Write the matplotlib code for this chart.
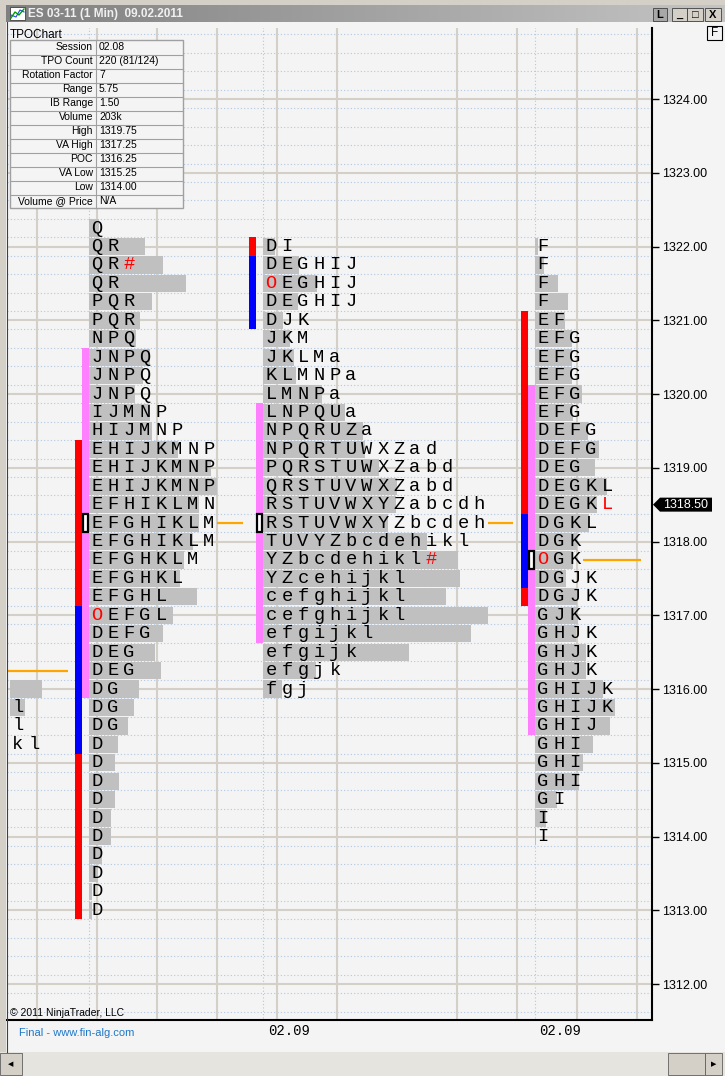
import matplotlib
matplotlib.use("Agg")
import matplotlib.pyplot as plt
import numpy as np
from matplotlib.patches import Rectangle, Polygon
from matplotlib.colors import LinearSegmentedColormap
from matplotlib import transforms

W, H = 725, 1076
DPI = 100
BG = "#F4F4F4"
CHROME = "#D4D0C8"

TICK = 0.25          # price increment of one TPO row
COL_PX = 16.0        # one TPO column is 16 px wide
ROW_H = 0.234        # bar height (row minus 1 px gap)

# info table of session 02.08
TABLE_LABELS = ["Session", "TPO Count", "Rotation Factor", "Range", "IB Range", "Volume",
                "High", "VA High", "POC", "VA Low", "Low", "Volume @ Price"]
TABLE_VALUES = ["02.08", "220 (81/124)", "7", "5.75", "1.50", "203k",
                "1319.75", "1317.25", "1316.25", "1315.25", "1314.00", "N/A"]

# profiles: top price, letter rows top->bottom ('!' = next letter is red), volume bars (px)
P0_TOP = 1316.00
P0_ROWS = ["", "l", "l", "kl"]
P0_VOL = [32, 15, 0, 0]

P1_TOP = 1322.25
P1_ROWS = ["Q", "QR", "QR!#", "QR", "PQR", "PQR", "NPQ", "JNPQ", "JNPQ", "JNPQ",
           "IJMNP", "HIJMNP", "EHIJKMNP", "EHIJKMNP", "EHIJKMNP", "EFHIKLMN",
           "EFGHIKLM", "EFGHIKLM", "EFGHKLM", "EFGHKL", "EFGHL", "!OEFGL", "DEFG",
           "DEG", "DEG", "DG", "DG", "DG", "D", "D", "D", "D", "D", "D", "D", "D", "D", "D"]
P1_VOL = [10, 56, 74, 97, 63, 51, 47, 61, 54, 46, 61, 63, 89, 122, 128, 110, 110, 104, 95,
          91, 108, 84, 74, 66, 72, 50, 45, 39, 29, 26, 30, 26, 22, 22, 13, 9, 3, 3]

P2_TOP = 1322.00
P2_ROWS = ["DI", "DEGHIJ", "!OEGHIJ", "DEGHIJ", "DJK", "JKM", "JKLMa", "KLMNPa", "LMNPa",
           "LNPQUa", "NPQRUZa", "NPQRTUWXZad", "PQRSTUWXZabd", "QRSTUVWXZabd",
           "RSTUVWXYZabcdh", "RSTUVWXYZbcdeh", "TUVYZbcdehikl", "YZbcdehikl!#",
           "YZcehijkl", "cefghijkl", "cefghijkl", "efgijkl", "efgijk", "efgjk", "fgj"]
P2_VOL = [12, 36, 54, 35, 20, 27, 31, 33, 59, 82, 100, 102, 116, 134, 133, 125, 164, 195,
          197, 183, 225, 208, 146, 53, 19]

P3_TOP = 1322.00
P3_ROWS = ["F", "F", "F", "F", "EF", "EFG", "EFG", "EFG", "EFG", "EFG", "DEFG", "DEFG",
           "DEG", "DEGKL", "DEGK!L", "DGKL", "DGK", "!OGK", "DGJK", "DGJK", "GJK", "GHJK",
           "GHJK", "GHJK", "GHIJK", "GHIJK", "GHIJ", "GHI", "GHI", "GHI", "GI", "I", "I"]
P3_VOL = [3, 9, 23, 33, 30, 37, 37, 37, 47, 38, 53, 64, 60, 72, 62, 54, 42, 38, 31, 42,
          43, 41, 51, 51, 68, 80, 75, 58, 48, 44, 22, 11, 1]

PROFILE_START = [0.1875, 5.125, 16.0, 33.0]   # in TPO columns

# side lanes: (profile, lane, color, top price, bottom price)
LANES = [(1, "range", "#FF0000", 1319.25, 1317.25), (1, "range", "#0000FF", 1317.00, 1315.25),
         (1, "range", "#FF0000", 1315.00, 1313.00), (1, "va", "#FF80FF", 1320.50, 1316.00),
         (2, "range", "#FF0000", 1322.00, 1322.00), (2, "range", "#0000FF", 1321.75, 1321.00),
         (2, "va", "#FF80FF", 1319.75, 1316.75),
         (3, "range", "#FF0000", 1321.00, 1318.50), (3, "range", "#0000FF", 1318.25, 1317.50),
         (3, "range", "#FF0000", 1317.25, 1317.25), (3, "va", "#FF80FF", 1320.00, 1315.50)]

POC_PRICE = [None, 1318.25, 1318.25, 1317.75]
# naked POC lines: price, from column, to column
POC_LINES = [(1316.25, 0.0, 3.8), (1318.25, 13.125, 14.75),
             (1318.25, 30.06, 31.6), (1317.75, 36.0, 39.6)]

LAST_PRICE = 1318.50
Y_TICKS = np.arange(1312, 1325)
X_TICKS = [17.6, 34.56]
X_LABELS = ["02.09", "02.09"]
VGRID = [1.875, 5.625, 9.375, 13.125, 16.875, 20.625, 28.125, 31.875, 35.625, 39.375]


def fx(x):
    return x / W


def fy(y):
    return 1 - y / H


def px_rect(fig, x0, y0, x1, y1, **kw):
    fig.add_artist(Rectangle((fx(x0), fy(y1)), (x1 - x0) / W, (y1 - y0) / H,
                             transform=fig.transFigure, **kw))


fig = plt.figure(figsize=(W / DPI, H / DPI), dpi=DPI, facecolor=BG)

# ---- main chart area ----
ax = fig.add_axes([fx(7), fy(1020), (652 - 7) / W, (1020 - 28) / H])
ax.set_facecolor(BG)
ax.set_xlim(0, (652 - 7) / COL_PX)
ax.set_ylim(1311.512, 1324.963)

for s in ["top", "left"]:
    ax.spines[s].set_visible(False)
for s in ["right", "bottom"]:
    ax.spines[s].set_color("black")
    ax.spines[s].set_linewidth(1.5)

ax.yaxis.tick_right()
ax.set_yticks(Y_TICKS)
ax.set_yticklabels([f"{v:.2f}" for v in Y_TICKS], family="Liberation Sans", fontsize=9)
ax.tick_params(axis="y", length=5, width=1, pad=2, colors="black")
ax.set_xticks(X_TICKS)
ax.set_xticklabels(X_LABELS, family="Liberation Mono", fontsize=10)
ax.tick_params(axis="x", length=0, pad=3)

# grid
quarter = np.arange(1311.625, 1325, TICK)
ax.hlines(quarter, 0, 41, colors="#AFC8E4", linestyles=(0, (1, 2)), linewidth=0.8, zorder=0.4)
ax.hlines(Y_TICKS, 0, 41, colors="#D4D0C8", linewidth=1.5, zorder=0.5)
ax.vlines(VGRID, 1311, 1325, colors="#D4D0C8", linewidth=1.5, zorder=0.5)
ax.vlines(PROFILE_START[1:], 1311, 1325, colors="#AFC8E4", linestyles=(0, (1, 2)),
          linewidth=0.8, zorder=0.45)

profiles = [(P0_TOP, P0_ROWS, P0_VOL), (P1_TOP, P1_ROWS, P1_VOL),
            (P2_TOP, P2_ROWS, P2_VOL), (P3_TOP, P3_ROWS, P3_VOL)]

for start, (top, rows, vol) in zip(PROFILE_START, profiles):
    prices = top - TICK * np.arange(len(rows))
    ax.barh(prices, np.array(vol) / COL_PX, left=start, height=ROW_H,
            color="#C0C0C0", zorder=1)
    for price, row in zip(prices, rows):
        i = 0
        red = False
        for ch in row:
            if ch == "!":
                red = True
                continue
            ax.text(start + i + 0.5, price, ch, ha="center", va="center",
                    family="Liberation Mono", fontsize=13.5,
                    color="#FF0000" if red else "black", zorder=3)
            red = False
            i += 1

# side lanes (range / initial balance, value area)
for p, lane, color, top, bottom in LANES:
    start = PROFILE_START[p]
    x0 = start - 14 / COL_PX if lane == "range" else start - 7 / COL_PX
    ax.add_patch(Rectangle((x0, bottom - TICK / 2), 7 / COL_PX, top - bottom + TICK,
                           facecolor=color, edgecolor="none", zorder=2))

# POC markers
for start, poc in zip(PROFILE_START, POC_PRICE):
    if poc is None:
        continue
    ax.add_patch(Rectangle((start - 6 / COL_PX, poc - 0.118), 5 / COL_PX, 0.236,
                           facecolor="white", edgecolor="black", linewidth=1.6, zorder=4))

for price, x0, x1 in POC_LINES:
    ax.plot([x0, x1], [price, price], color="#FFA500", linewidth=1.6, zorder=2,
            solid_capstyle="butt")

# last price tag
tr = transforms.blended_transform_factory(fig.transFigure, ax.transData)
dy = 7 / 73.75
tag = Polygon([(fx(653), LAST_PRICE), (fx(660), LAST_PRICE + dy), (fx(712), LAST_PRICE + dy),
               (fx(712), LAST_PRICE - dy), (fx(660), LAST_PRICE - dy)],
              closed=True, facecolor="black", edgecolor="none", transform=tr, clip_on=False)
ax.add_artist(tag)
ax.text(fx(686), LAST_PRICE, f"{LAST_PRICE:.2f}", transform=tr, ha="center", va="center",
        color="white", family="Liberation Sans", fontsize=9, clip_on=False, zorder=6)

ax.text(fx(10), fy(1013), "\u00a9 2011 NinjaTrader, LLC", transform=fig.transFigure,
        family="Liberation Sans", fontsize=7.5, va="center", ha="left")

# ---- info table ----
fig.text(fx(10), fy(35), "TPOChart", family="Liberation Sans", fontsize=8.5,
         va="center", ha="left")
t_top, row_h, t_left, t_mid, t_right = 40.5, 14.0, 10, 96, 183
t_bot = t_top + row_h * len(TABLE_LABELS)
px_rect(fig, t_left, t_top, t_right, t_bot, facecolor=BG, edgecolor="#A0A0A0",
        linewidth=1, zorder=5)
for k, (lab, val) in enumerate(zip(TABLE_LABELS, TABLE_VALUES)):
    yc = t_top + row_h * (k + 0.5)
    if k > 0:
        fig.add_artist(plt.Line2D([fx(t_left), fx(t_right)], [fy(t_top + row_h * k)] * 2,
                                  color="#A0A0A0", linewidth=0.8, zorder=6))
    fig.text(fx(t_mid - 3), fy(yc), lab, family="Liberation Sans", fontsize=7.5,
             ha="right", va="center", zorder=7)
    fig.text(fx(t_mid + 3), fy(yc), val, family="Liberation Sans", fontsize=7.5,
             ha="left", va="center", zorder=7)
fig.add_artist(plt.Line2D([fx(t_mid)] * 2, [fy(t_top), fy(t_bot)], color="#A0A0A0",
                          linewidth=0.8, zorder=6))

# ---- window chrome ----
px_rect(fig, 0, 0, W, 5, facecolor=CHROME, edgecolor="none")
px_rect(fig, 0, 0, 6, H, facecolor=CHROME, edgecolor="none")
fig.add_artist(plt.Line2D([fx(6.5)] * 2, [fy(22), fy(1052)], color="#404040", linewidth=0.8))

tb = fig.add_axes([fx(6), fy(22), (W - 6) / W, 17 / H])
grad = LinearSegmentedColormap.from_list("title", ["#808080", "#C4C4C4"])
tb.imshow(np.linspace(0, 1, 256)[None, :], cmap=grad, aspect="auto", extent=[0, 1, 0, 1])
tb.axis("off")
fig.text(fx(28), fy(13.5), "ES 03-11 (1 Min)  09.02.2011", family="Liberation Sans",
         fontweight="bold", fontsize=8.5, color="#F0F0F0", va="center", ha="left")
# little chart icon
px_rect(fig, 10, 7, 25, 20, facecolor="white", edgecolor="#404040", linewidth=0.6)
fig.add_artist(plt.Line2D([fx(11), fx(15), fx(19), fx(24)], [fy(18), fy(12), fy(15), fy(9)],
                          color="#00A000", linewidth=1))
fig.add_artist(plt.Line2D([fx(11), fx(16), fx(20), fx(24)], [fy(15), fy(17), fy(10), fy(12)],
                          color="#2050D0", linewidth=0.8))

for x0, x1, label, face in [(653, 667, "L", "#A8A8A8"), (672, 687, "_", CHROME),
                            (687, 703, "\u25a1", CHROME), (705, 721, "X", CHROME)]:
    px_rect(fig, x0, 8, x1, 21, facecolor=face, edgecolor="#404040", linewidth=0.6)
    fig.text(fx((x0 + x1) / 2), fy(14.5), label, family="Liberation Sans", fontsize=8,
             fontweight="bold", ha="center", va="center")

px_rect(fig, 707, 26, 722, 40, facecolor=BG, edgecolor="black", linewidth=0.8)
fig.text(fx(714.5), fy(33), "F", family="Liberation Sans", fontsize=8.5, ha="center",
         va="center")

fig.text(fx(19), fy(1033), "Final - www.fin-alg.com", family="Liberation Sans", fontsize=8,
         color="#1F78C8", ha="left", va="center")

# scroll bar
px_rect(fig, 0, 1052, W, H, facecolor="#E6E4DE", edgecolor="none")
for x0, x1 in [(0, 22), (668, 705), (705, 722)]:
    px_rect(fig, x0, 1053, x1, 1075, facecolor=CHROME, edgecolor="#606060", linewidth=0.6)
fig.text(fx(11), fy(1064), "\u25c0", fontsize=5, ha="center", va="center")
fig.text(fx(713.5), fy(1064), "\u25b6", fontsize=5, ha="center", va="center")

fig.savefig("out.png", dpi=DPI, facecolor=BG)
